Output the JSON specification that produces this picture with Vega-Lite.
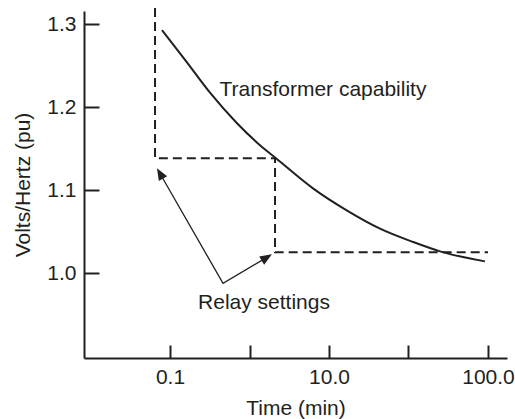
{
  "$schema": "https://vega.github.io/schema/vega-lite/v6.json",
  "autosize": "none",
  "padding": {"left": 84, "top": 11, "right": 8, "bottom": 61},
  "width": 423,
  "height": 347,
  "background": "white",
  "config": {
    "view": {"stroke": null},
    "font": "Liberation Sans",
    "axis": {
      "grid": false,
      "domainColor": "#231f20",
      "domainWidth": 2,
      "tickColor": "#231f20",
      "tickWidth": 2,
      "labelFont": "Liberation Sans",
      "labelFontSize": 21,
      "labelColor": "#231f20",
      "titleFont": "Liberation Sans",
      "titleFontSize": 21,
      "titleFontWeight": "normal",
      "titleColor": "#231f20"
    }
  },
  "layer": [
    {
      "data": {"values": [
        {"t": 0.07932, "v": 1.29277},
        {"t": 0.15896, "v": 1.25542},
        {"t": 0.31852, "v": 1.21747},
        {"t": 0.6964, "v": 1.18072},
        {"t": 1.3554, "v": 1.15422},
        {"t": 2.1544, "v": 1.13855},
        {"t": 6.3464, "v": 1.10205},
        {"t": 16.70, "v": 1.07590},
        {"t": 43.81, "v": 1.05386},
        {"t": 114.9, "v": 1.03771},
        {"t": 249.1, "v": 1.02651},
        {"t": 916.8, "v": 1.01446}
      ]},
      "mark": {"type": "line", "color": "#231f20", "strokeWidth": 2, "interpolate": "monotone", "clip": false},
      "encoding": {
        "x": {
          "field": "t", "type": "quantitative",
          "scale": {"type": "log", "domain": [0.008282, 1734], "nice": false},
          "axis": {
            "values": [0.1, 1, 10, 100, 1000],
            "labelExpr": "datum.value == 0.1 ? '0.1' : datum.value == 10 ? '10.0' : datum.value == 1000 ? '100.0' : ''",
            "tickSize": -13,
            "labelPadding": 21,
            "labelFlush": false,
            "title": "Time (min)",
            "titlePadding": 10
          }
        },
        "y": {
          "field": "v", "type": "quantitative",
          "scale": {"domain": [0.8982, 1.3157], "nice": false, "zero": false},
          "axis": {
            "values": [1.0, 1.1, 1.2, 1.3],
            "format": ".1f",
            "tickSize": -15,
            "labelPadding": 23,
            "title": "Volts/Hertz (pu)",
            "titlePadding": 13
          }
        }
      }
    },
    {
      "data": {"values": [
        {"t": 0.0648, "v": 1.3193, "o": 1},
        {"t": 0.0648, "v": 1.1386, "o": 2},
        {"t": 2.094, "v": 1.1386, "o": 3},
        {"t": 2.094, "v": 1.0253, "o": 4},
        {"t": 1000, "v": 1.0253, "o": 5}
      ]},
      "mark": {"type": "line", "color": "#231f20", "strokeWidth": 2, "strokeDash": [9, 5], "clip": false},
      "encoding": {
        "x": {"field": "t", "type": "quantitative"},
        "y": {"field": "v", "type": "quantitative"},
        "order": {"field": "o"}
      }
    },
    {
      "data": {"values": [
        {"t": 0.0748, "v": 1.1202, "o": 1},
        {"t": 0.4645, "v": 0.988, "o": 2},
        {"t": 1.651, "v": 1.0192, "o": 3}
      ]},
      "mark": {"type": "line", "color": "#231f20", "strokeWidth": 1.3},
      "encoding": {
        "x": {"field": "t", "type": "quantitative"},
        "y": {"field": "v", "type": "quantitative"},
        "order": {"field": "o"}
      }
    },
    {
      "data": {"values": [{"t": 0.0748, "v": 1.1202}]},
      "mark": {"type": "point", "shape": "M-0.8,1L0,-1L0.8,1Z", "filled": true, "color": "#231f20", "opacity": 1, "size": 144, "angle": 330},
      "encoding": {
        "x": {"field": "t", "type": "quantitative"},
        "y": {"field": "v", "type": "quantitative"}
      }
    },
    {
      "data": {"values": [{"t": 1.651, "v": 1.0192}]},
      "mark": {"type": "point", "shape": "M-0.8,1L0,-1L0.8,1Z", "filled": true, "color": "#231f20", "opacity": 1, "size": 144, "angle": 59},
      "encoding": {
        "x": {"field": "t", "type": "quantitative"},
        "y": {"field": "v", "type": "quantitative"}
      }
    },
    {
      "data": {"values": [
        {"t": 8.40, "v": 1.2205, "label": "Transformer capability"},
        {"t": 1.522, "v": 0.9639, "label": "Relay settings"}
      ]},
      "mark": {"type": "text", "font": "Liberation Sans", "fontSize": 21, "color": "#231f20", "align": "center", "baseline": "middle"},
      "encoding": {
        "x": {"field": "t", "type": "quantitative"},
        "y": {"field": "v", "type": "quantitative"},
        "text": {"field": "label"}
      }
    }
  ]
}
